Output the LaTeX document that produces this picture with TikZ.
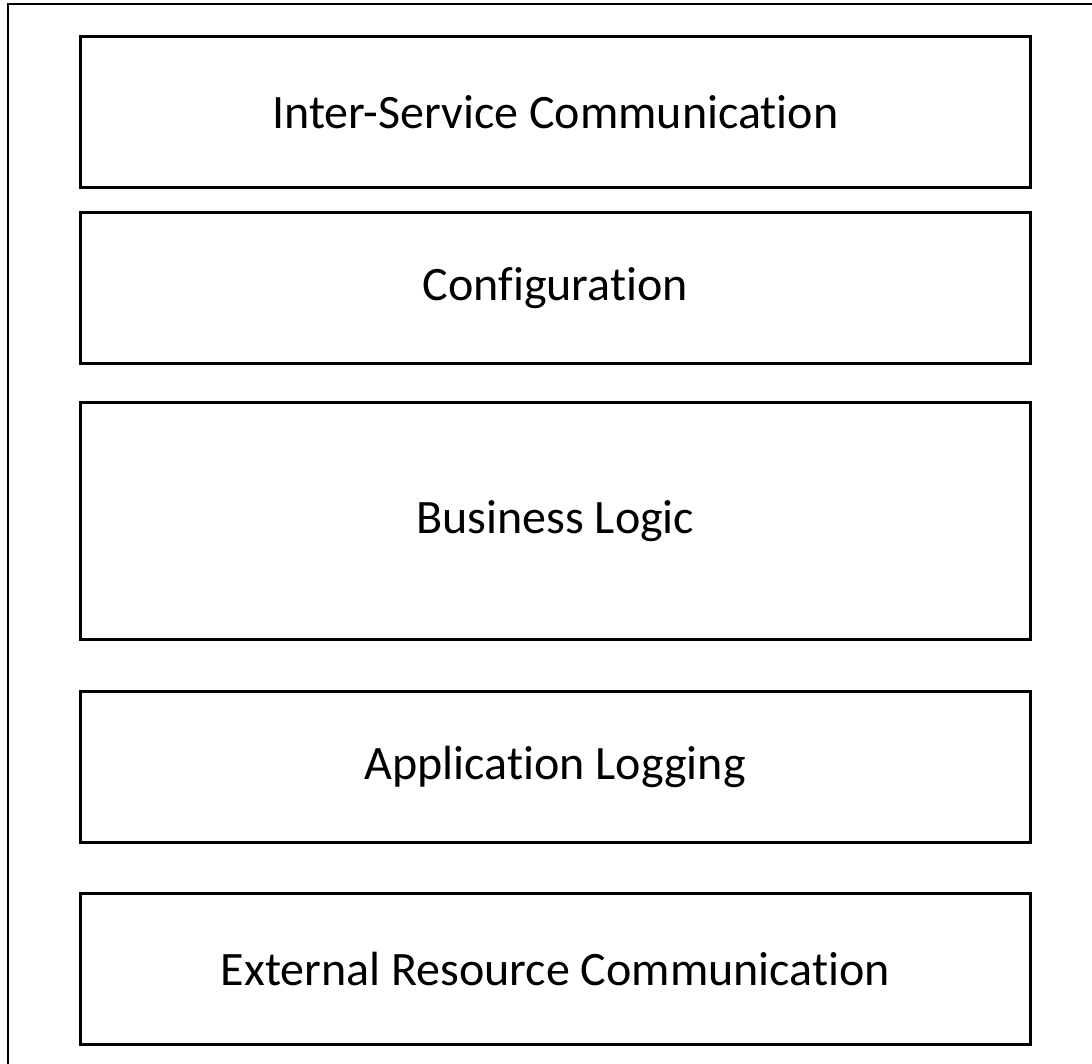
\documentclass[tikz,border=0pt]{standalone}
\usepackage{fontspec}
\setmainfont[RawFeature={-liga;-dlig}]{Carlito}
\begin{document}
\begin{tikzpicture}[x=1pt,y=-1pt,
  layer/.style={draw=black, line width=2.6pt, fill=white, minimum width=950pt,
    anchor=north west, inner sep=0pt, font=\fontsize{48}{56}\selectfont},
  frame/.style={draw=black, line width=2.6pt}]
\useasboundingbox (0,0) rectangle (1092,1064);
\clip (0,0) rectangle (1092,1064);
% outer container, running past the right and bottom edges
\draw[frame] (8,4) rectangle (1120,1100);
% stacked layers
\node[layer, minimum height=151pt] (isc) at (79,35) {Inter-Service Communication};
\node[layer, minimum height=151pt] (cfg) at (79,211) {Configuration};
\node[layer, minimum height=237pt] (bl)  at (79,401) {Business Logic};
\node[layer, minimum height=151pt] (log) at (79,690) {Application Logging};
\node[layer, minimum height=151pt] (erc) at (79,892) {External Resource Communication};
\end{tikzpicture}
\end{document}
